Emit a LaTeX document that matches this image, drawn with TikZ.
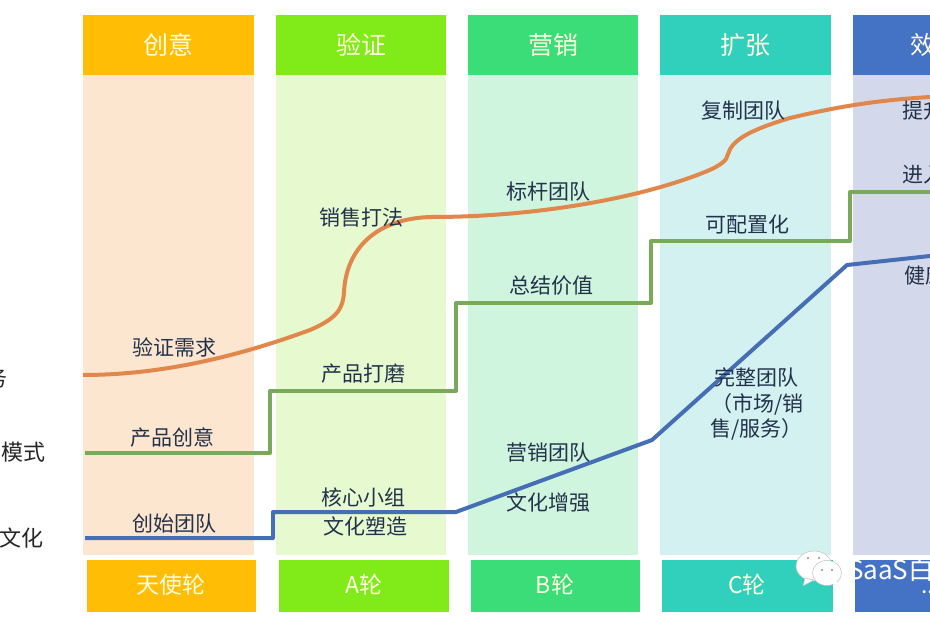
\documentclass[tikz,border=0pt]{standalone}
\usepackage{fontspec}
\setmainfont{Noto Sans CJK SC}
\usepackage{xcolor}
\definecolor{ideahead}{RGB}{255,190,5}
\definecolor{ideabody}{RGB}{253,230,208}
\definecolor{checkhead}{RGB}{128,235,25}
\definecolor{checkbody}{RGB}{230,249,207}
\definecolor{markethead}{RGB}{58,221,120}
\definecolor{marketbody}{RGB}{208,245,222}
\definecolor{growhead}{RGB}{48,208,188}
\definecolor{growbody}{RGB}{210,241,240}
\definecolor{effhead}{RGB}{68,114,196}
\definecolor{effbody}{RGB}{211,216,234}
\definecolor{myorange}{RGB}{226,135,75}
\definecolor{mygreen}{RGB}{120,170,90}
\definecolor{myblue}{RGB}{70,110,180}
\definecolor{labelink}{RGB}{35,50,75}
\usepackage{tikz}
\usetikzlibrary{calc,positioning}
\tikzset{
  headtext/.style={text=white!88!yellow,font=\fontsize{25}{25}\selectfont,inner sep=0pt},
  roundtext/.style={text=white!88!yellow,font=\fontsize{23}{23}\selectfont,inner sep=0pt},
  lab/.style={text=labelink,font=\fontsize{21}{25}\selectfont,inner sep=0pt,align=center},
  sidelab/.style={text=black!85,font=\fontsize{22}{22}\selectfont,inner sep=0pt},
  curve/.style={line width=4pt,line join=round}
}
\begin{document}
\begin{tikzpicture}[x=1pt,y=-1pt]
  \useasboundingbox (0,0) rectangle (930,620);
  \clip (0,0) rectangle (930,620);
  \fill[white] (0,0) rectangle (930,620);
  % columns
  \foreach \lx/\ux/\bx/\cx/\hc/\bc in {
    83/254/87/256/ideahead/ideabody,
    276/446/279/449/checkhead/checkbody,
    468/638/471/640/markethead/marketbody,
    660/831/662/833/growhead/growbody,
    853/960/855/960/effhead/effbody}{
    \fill[\bc] (\lx,75) rectangle (\ux,555);
    \fill[\hc] (\lx,15) rectangle (\ux,75);
    \fill[\hc] (\bx,560) rectangle (\cx,612);
  }
  % stage names
  \node[headtext] (idea) at (168,45) {创意};
  \node[headtext] (check) at (361,45) {验证};
  \node[headtext] (market) at (553,45) {营销};
  \node[headtext] (grow) at (745,45) {扩张};
  \node[headtext,anchor=west] (eff) at (910,45) {效};
  \node[roundtext] (angel) at (171,585) {天使轮};
  \node[roundtext] (rounda) at (364,585) {A轮};
  \node[roundtext] (roundb) at (555,585) {B轮};
  \node[roundtext] (roundc) at (747,585) {C轮};
  \node[roundtext,anchor=west] (roundd) at (921,592) {..};
  % side labels
  \node[sidelab,anchor=east] (sideone) at (8,378) {务};
  \node[sidelab,anchor=east] (sidetwo) at (46,452) {模式};
  \node[sidelab,anchor=east] (sidethree) at (44,538) {文化};
  % curves
  \draw[curve,myblue] (85,538) -- (273,538) -- (273,512) -- (456,512) -- (652,440) -- (847,265) -- (930,256);
  \draw[curve,mygreen] (85,453) -- (270,453) -- (270,391) -- (456,391) -- (456,303) -- (651,303) -- (651,241) -- (850,241) -- (850,192) -- (930,192);
  \draw[curve,myorange] (83,375) .. controls (170,375) and (250,352) .. (310,330)
    .. controls (338,318) and (343,308) .. (344,292)
    .. controls (346,250) and (375,218) .. (432,217)
    .. controls (530,217) and (635,200) .. (705,172)
    .. controls (722,165) and (727,160) .. (728,154)
    .. controls (732,140) and (750,130) .. (790,118)
    .. controls (840,106) and (880,100) .. (930,97);
  % stage labels
  \node[lab] (needs) at (174,347) {验证需求};
  \node[lab] (ideaprod) at (172,437) {产品创意};
  \node[lab] (founders) at (174,524) {创始团队};
  \node[lab] (salesplay) at (361,218) {销售打法};
  \node[lab] (polish) at (363,374) {产品打磨};
  \node[lab] (core) at (363,497) {核心小组};
  \node[lab] (culture) at (365,526) {文化塑造};
  \node[lab] (bench) at (548,192) {标杆团队};
  \node[lab] (value) at (551,286) {总结价值};
  \node[lab] (mktteam) at (548,453) {营销团队};
  \node[lab] (cultplus) at (548,503) {文化增强};
  \node[lab] (copyteam) at (743,111) {复制团队};
  \node[lab] (config) at (747,225) {可配置化};
  \node[lab,anchor=north west] (fullone) at (714,367) {完整团队};
  \node[lab,anchor=north west] (fulltwo) at (711,393) {（市场/销};
  \node[lab,anchor=north west] (fullthree) at (710,418) {售/服务）};
  \node[lab,anchor=west] (lift) at (902,111) {提升};
  \node[lab,anchor=west] (enter) at (902,175) {进入};
  \node[lab,anchor=west] (health) at (904,275) {健康};
  % watermark
  \fill[white,draw=black!25,line width=.5pt] (814,566) ellipse (18 and 15);
  \fill[white,draw=black!25,line width=.5pt] (805,578) -- (803,586) -- (814,580) -- cycle;
  \fill[white,draw=black!25,line width=.5pt] (827,573) ellipse (14.5 and 12.5);
  \fill[white] (832,583) -- (838,587) -- (836,578) -- cycle;
  \fill[black!45] (808,558) circle (1.2) (819,558) circle (1.2) (822,570) circle (1.2) (832,570) circle (1.2);
  \node[text=white,font=\fontsize{26}{26}\selectfont,inner sep=0pt,anchor=west] (brand) at (848,570) {SaaS白};
\end{tikzpicture}
\end{document}
